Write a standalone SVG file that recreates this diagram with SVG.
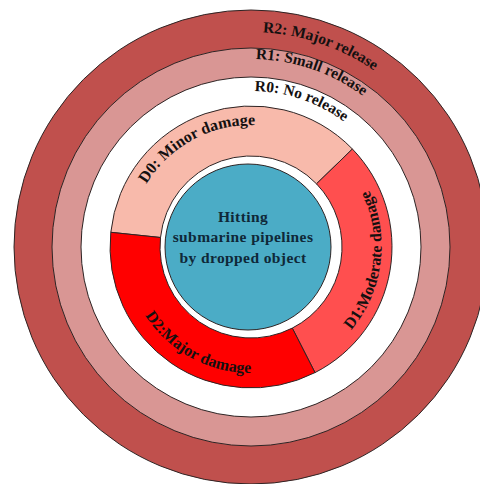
<svg xmlns="http://www.w3.org/2000/svg" xmlns:xlink="http://www.w3.org/1999/xlink" width="480" height="484" viewBox="0 0 480 484">
<style>
.ring{stroke:#2e2424;stroke-width:1}
.lbl{font-family:"Liberation Serif","Times New Roman",serif;font-weight:bold;font-size:15.5px;fill:#141010}
.dl{font-size:16px}
.ctr{font-family:"Liberation Serif","Times New Roman",serif;font-weight:bold;font-size:15.5px;fill:#0f2838;text-anchor:middle;letter-spacing:0.4px}
</style>
<defs>
<path id="pR2" d="M112.8,82.3 A215,215 0 0 1 461.3,202.3"/>
<path id="pR1" d="M130.2,103.0 A188,188 0 0 1 434.9,207.9"/>
<path id="pR0" d="M150.7,127.5 A156,156 0 0 1 403.6,214.6"/>
<path id="pD0" d="M129.0,243.8 A122,122 0 0 1 314.7,143.0"/>
<path id="pD1" d="M300.5,367.5 A131,131 0 0 0 329.0,141.5"/>
<path id="pD2" d="M125.0,250.3 A126,126 0 0 0 316.8,354.4"/>
</defs>
<rect width="480" height="484" fill="#ffffff"/>
<g id="R2">
<circle class="ring" cx="251" cy="247" r="237" fill="#c0504d"/>
<text class="lbl"><textPath xlink:href="#pR2" href="#pR2" startOffset="50%" text-anchor="middle">R2: Major release</textPath></text>
</g>
<g id="R1">
<circle class="ring" cx="251" cy="247" r="199" fill="#d99694"/>
<text class="lbl"><textPath xlink:href="#pR1" href="#pR1" startOffset="50%" text-anchor="middle">R1: Small release</textPath></text>
</g>
<g id="R0">
<circle class="ring" cx="251" cy="247" r="170" fill="#ffffff"/>
<text class="lbl"><textPath xlink:href="#pR0" href="#pR0" startOffset="50%" text-anchor="middle">R0: No release</textPath></text>
</g>
<g id="D0">
<path class="ring" d="M110.8,232.3 A141,141 0 0 1 352.4,149.0 L316.5,183.8 A91,91 0 0 0 160.5,237.5 Z" fill="#f8baab"/>
<text class="lbl dl"><textPath xlink:href="#pD0" href="#pD0" startOffset="50%" text-anchor="middle">D0: Minor damage</textPath></text>
</g>
<g id="D1">
<path class="ring" d="M352.4,149.0 A141,141 0 0 1 315.0,372.6 L292.3,328.1 A91,91 0 0 0 316.5,183.8 Z" fill="#ff4f4f"/>
<text class="lbl dl"><textPath xlink:href="#pD1" href="#pD1" startOffset="50%" text-anchor="middle">D1:Moderate damage</textPath></text>
</g>
<g id="D2">
<path class="ring" d="M315.0,372.6 A141,141 0 0 1 110.8,232.3 L160.5,237.5 A91,91 0 0 0 292.3,328.1 Z" fill="#ff0000"/>
<text class="lbl dl"><textPath xlink:href="#pD2" href="#pD2" startOffset="50%" text-anchor="middle">D2:Major damage</textPath></text>
</g>
<g id="center">
<circle class="ring" cx="248" cy="247" r="83" fill="#4bacc6"/>
<text class="ctr" x="243" y="222">Hitting</text>
<text class="ctr" x="243" y="242">submarine pipelines</text>
<text class="ctr" x="243" y="263">by dropped object</text>
</g>
<g id="connectors"/>
</svg>
